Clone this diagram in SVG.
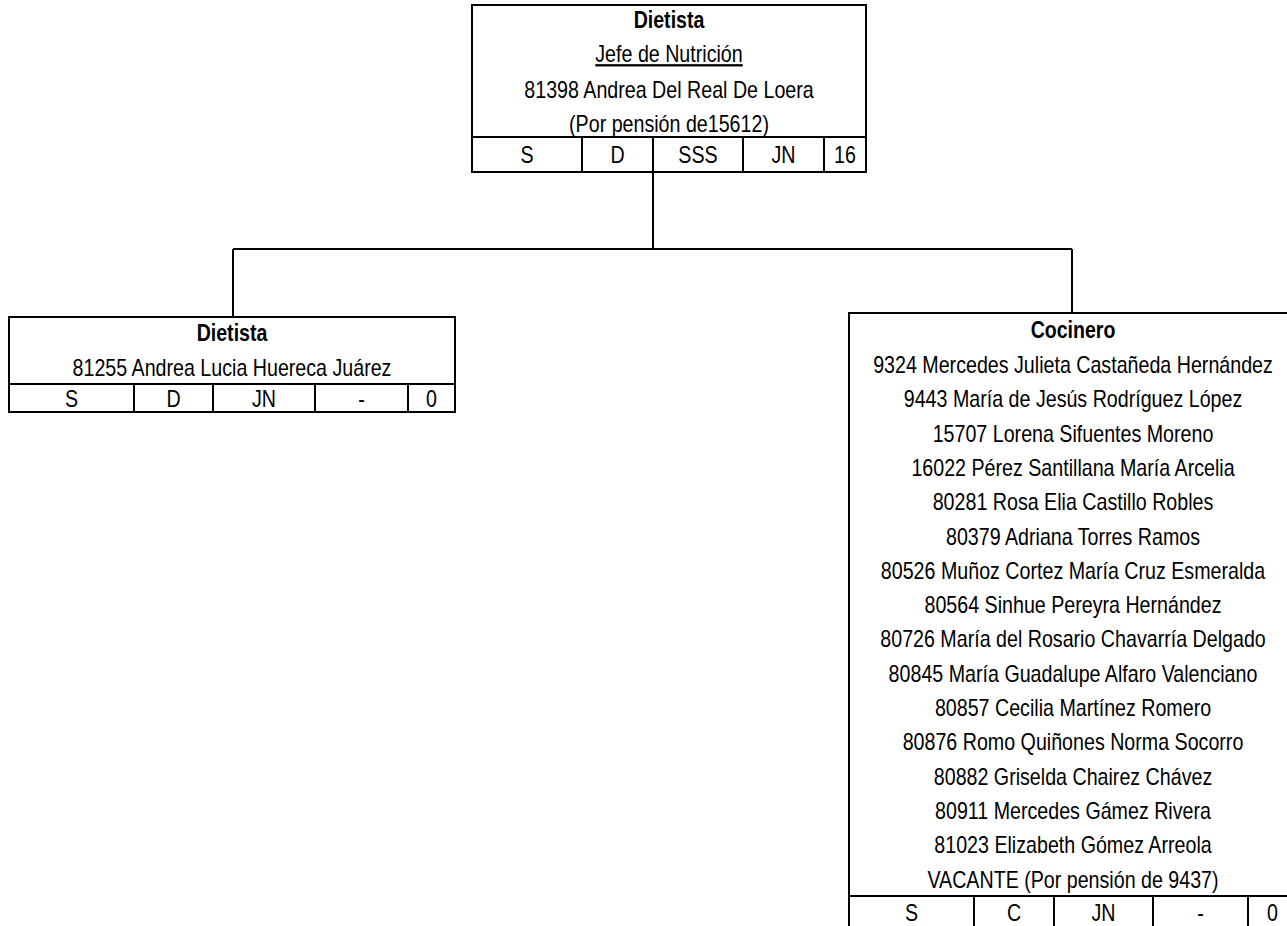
<svg xmlns="http://www.w3.org/2000/svg" width="1287" height="926" viewBox="0 0 1287 926">
<style>
text{font-family:"Liberation Sans",Arial,sans-serif;font-size:23px;fill:#000;text-anchor:middle}
.b{font-weight:bold}
.u{text-decoration:underline}
.box{fill:#fff;stroke:#000;stroke-width:2}
.ln{fill:none;stroke:#000;stroke-width:2}
</style>
<rect width="1287" height="926" fill="#fff"/>
<g id="connectors">
<path class="ln" d="M653,172 V249 M233,249 H1072 M233,249 V317 M1072,249 V313"/>
</g>
<g id="node-jefe">
<rect class="box" x="472" y="5" width="394" height="167"/>
<path class="ln" d="M472,137 H866 M582,137 V172 M653,137 V172 M743,137 V172 M824,137 V172"/>
<text class="b" transform="translate(669,28) scale(0.85,1)">Dietista</text>
<text class="u" transform="translate(669,62) scale(0.855,1)">Jefe de Nutrición</text>
<text transform="translate(669,98) scale(0.855,1)">81398 Andrea Del Real De Loera</text>
<text transform="translate(669,132) scale(0.855,1)">(Por pensión de15612)</text>
<text transform="translate(527,163) scale(0.855,1)">S</text>
<text transform="translate(617.5,163) scale(0.855,1)">D</text>
<text transform="translate(698,163) scale(0.855,1)">SSS</text>
<text transform="translate(783.5,163) scale(0.855,1)">JN</text>
<text transform="translate(845,163) scale(0.855,1)">16</text>
</g>
<g id="node-dietista">
<rect class="box" x="9" y="317" width="446" height="95"/>
<path class="ln" d="M9,384 H455 M134,384 V412 M213,384 V412 M315,384 V412 M408,384 V412"/>
<text class="b" transform="translate(232,341) scale(0.85,1)">Dietista</text>
<text transform="translate(232,376) scale(0.855,1)">81255 Andrea Lucia Huereca Juárez</text>
<text transform="translate(71.5,407) scale(0.855,1)">S</text>
<text transform="translate(173.5,407) scale(0.855,1)">D</text>
<text transform="translate(264,407) scale(0.855,1)">JN</text>
<text transform="translate(361.5,407) scale(0.855,1)">-</text>
<text transform="translate(431.5,407) scale(0.855,1)">0</text>
</g>
<g id="node-cocinero">
<rect class="box" x="849" y="313" width="448" height="630"/>
<path class="ln" d="M849,896 H1297 M974,896 V930 M1054,896 V930 M1153,896 V930 M1248,896 V930"/>
<text class="b" transform="translate(1073,338) scale(0.85,1)">Cocinero</text>
<text transform="translate(1073,373) scale(0.855,1)">9324 Mercedes Julieta Castañeda Hernández</text>
<text transform="translate(1073,407.3) scale(0.855,1)">9443 María de Jesús Rodríguez López</text>
<text transform="translate(1073,441.6) scale(0.855,1)">15707 Lorena Sifuentes Moreno</text>
<text transform="translate(1073,475.9) scale(0.855,1)">16022 Pérez Santillana María Arcelia</text>
<text transform="translate(1073,510.2) scale(0.855,1)">80281 Rosa Elia Castillo Robles</text>
<text transform="translate(1073,544.5) scale(0.855,1)">80379 Adriana Torres Ramos</text>
<text transform="translate(1073,578.8) scale(0.855,1)">80526 Muñoz Cortez María Cruz Esmeralda</text>
<text transform="translate(1073,613.1) scale(0.855,1)">80564 Sinhue Pereyra Hernández</text>
<text transform="translate(1073,647.4) scale(0.855,1)">80726 María del Rosario Chavarría Delgado</text>
<text transform="translate(1073,681.7) scale(0.855,1)">80845 María Guadalupe Alfaro Valenciano</text>
<text transform="translate(1073,716) scale(0.855,1)">80857 Cecilia Martínez Romero</text>
<text transform="translate(1073,750.3) scale(0.855,1)">80876 Romo Quiñones Norma Socorro</text>
<text transform="translate(1073,784.6) scale(0.855,1)">80882 Griselda Chairez Chávez</text>
<text transform="translate(1073,818.9) scale(0.855,1)">80911 Mercedes Gámez Rivera</text>
<text transform="translate(1073,853.2) scale(0.855,1)">81023 Elizabeth Gómez Arreola</text>
<text transform="translate(1073,887.5) scale(0.855,1)">VACANTE (Por pensión de 9437)</text>
<text transform="translate(911.5,921) scale(0.855,1)">S</text>
<text transform="translate(1014,921) scale(0.855,1)">C</text>
<text transform="translate(1103.5,921) scale(0.855,1)">JN</text>
<text transform="translate(1200.5,921) scale(0.855,1)">-</text>
<text transform="translate(1272.5,921) scale(0.855,1)">0</text>
</g>
</svg>
